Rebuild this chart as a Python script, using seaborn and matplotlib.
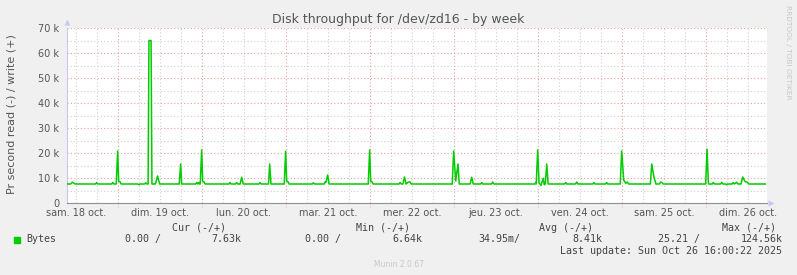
import numpy as np
import pandas as pd
import matplotlib
matplotlib.use("Agg")
import matplotlib.pyplot as plt
import seaborn as sns

# ---------------- data (hours since Sat 18 Oct 00:00, values in k bytes/s) -----
t_hours = [
    9.43,
    10.5, 10.94, 11.4, 11.8,
    17.6, 17.9, 18.2,
    22.2, 22.5, 22.8,
    23.5, 23.9, 24.2, 24.57, 24.9,
    29.7, 30.0, 30.3,
    31.6, 31.9, 32.2,
    32.6, 32.85, 33.45, 33.7,
    34.7, 35.3, 35.9,
    41.5, 41.9, 42.2,
    46.2, 46.5, 46.8, 47.06, 47.3,
    47.5, 47.9, 48.2, 48.57, 48.9,
    55.7, 56.0, 56.3,
    57.6, 57.9, 58.2,
    58.9, 59.34, 59.8,
    64.3, 64.57, 64.9,
    67.0, 67.34, 67.7,
    71.5, 71.9, 72.2, 72.57, 72.9,
    79.5, 79.8, 80.1,
    82.9, 83.14, 83.4, 83.91, 84.3,
    95.5, 95.9, 96.2, 96.57, 96.9,
    104.3, 104.57, 104.9,
    105.4, 105.86, 106.3, 106.94, 107.43, 107.8,
    119.5, 119.9, 120.49, 121.14, 121.5,
    124.6, 125.06, 125.5,
    127.6, 127.91, 128.2,
    130.7, 131.06, 131.4,
    143.1, 143.34, 143.5, 143.91, 144.3, 144.86, 145.51, 145.8, 146.1, 146.49, 146.9,
    151.6, 151.91, 152.2,
    154.7, 155.06, 155.4,
    159.7, 160.0, 160.3,
    163.3, 163.63, 163.9,
    167.5, 167.91, 168.49, 169.06, 169.51, 169.9,
    176.1, 176.49, 177.14, 177.71,
    178.7, 179.06, 179.43, 179.8,
    191.9, 192.3, 192.7,
    193.8, 194.09, 194.4,
    196.2, 196.49, 196.8,
    197.6, 197.91, 198.2,
    199.5, 199.8, 200.1, 200.77, 201.1,
    202.0, 202.49, 203.14, 203.8, 204.2,
    209.06,
]
bytes_k = [
    7.6,
    7.6, 8.3, 7.9, 7.6,
    7.6, 8.2, 7.6,
    7.6, 8.2, 7.6,
    7.6, 20.8, 8.7, 8.5, 7.6,
    7.6, 7.3, 7.6,
    7.6, 8.1, 7.6,
    7.6, 65.0, 65.0, 7.6,
    7.6, 10.8, 7.6,
    7.6, 15.6, 7.6,
    7.6, 8.2, 7.6, 8.2, 7.6,
    7.6, 21.2, 8.7, 8.4, 7.6,
    7.6, 8.2, 7.6,
    7.6, 8.2, 7.6,
    7.6, 10.3, 7.6,
    7.6, 8.1, 7.6,
    7.6, 15.6, 7.6,
    7.6, 20.7, 8.7, 8.5, 7.6,
    7.6, 8.1, 7.6,
    7.6, 8.4, 8.2, 11.2, 7.6,
    7.6, 21.2, 8.7, 8.5, 7.6,
    7.6, 8.2, 7.6,
    7.6, 10.4, 7.6, 8.4, 8.4, 7.6,
    7.6, 20.8, 8.8, 15.6, 7.6,
    7.6, 10.3, 7.6,
    7.6, 8.2, 7.6,
    7.6, 8.4, 7.6,
    7.6, 8.2, 7.6, 21.2, 8.0, 7.0, 9.9, 7.3, 7.6, 15.6, 7.6,
    7.6, 8.2, 7.6,
    7.6, 8.4, 7.6,
    7.6, 8.2, 7.6,
    7.6, 8.2, 7.6,
    7.6, 20.8, 9.2, 7.9, 8.4, 7.6,
    7.6, 15.6, 10.3, 7.6,
    7.6, 8.4, 8.2, 7.6,
    7.6, 21.6, 7.6,
    7.6, 8.2, 7.6,
    7.6, 8.3, 7.6,
    7.6, 7.3, 7.6,
    7.6, 8.2, 7.6, 8.3, 7.6,
    7.6, 10.4, 8.6, 8.3, 7.6,
    7.6,
]
day_labels = ["sam. 18 oct.", "dim. 19 oct.", "lun. 20 oct.", "mar. 21 oct.",
              "mer. 22 oct.", "jeu. 23 oct.", "ven. 24 oct.", "sam. 25 oct.",
              "dim. 26 oct."]
label_hours = [12, 36, 60, 84, 108, 132, 156, 180, 204]
y_ticks = [0, 10, 20, 30, 40, 50, 60, 70]
y_labels = ["0", "10 k", "20 k", "30 k", "40 k", "50 k", "60 k", "70 k"]

legend_headers = ["Cur (-/+)", "Min (-/+)", "Avg (-/+)", "Max (-/+)"]
legend_values = ["0.00 /", "7.63k", "0.00 /", "6.64k",
                 "34.95m/", "8.41k", "25.21 /", "124.56k"]
series_name = "Bytes"
last_update = "Last update: Sun Oct 26 16:00:22 2025"

df = pd.DataFrame({"hours": t_hours, "bytes_k": bytes_k})

# ---------------- figure -------------------------------------------------------
sns.set_style("white")
plt.rcParams['font.family'] = ['DejaVu Sans']

W, H = 797, 275
fig = plt.figure(figsize=(W / 100, H / 100), dpi=100, facecolor='#F0F0F0')
x0, x1, ytop, ybot = 67, 767, 28, 203
ax = fig.add_axes([x0 / W, (H - ybot) / H, (x1 - x0) / W, (ybot - ytop) / H])
ax.set_facecolor('white')
xmin, xmax = 9.43, 209.43
ax.set_xlim(xmin, xmax)
ax.set_ylim(0, 70)

grid_gray = '#D0D0D0'
grid_red = '#E8A0A0'
dots = (0, (1, 2))
for h in np.arange(12, 210, 6):
    if h % 24 == 0:
        continue
    ax.axvline(h, color=grid_gray, lw=0.8, ls=dots, zorder=0)
for v in np.arange(5, 70, 10):
    ax.axhline(v, color=grid_gray, lw=0.8, ls=dots, zorder=0)
for h in np.arange(24, 200, 24):
    ax.axvline(h, color=grid_red, lw=0.8, ls=dots, zorder=0.5)
    ax.plot([h, h], [0, -1.6], color=grid_red, lw=0.8, ls=dots, clip_on=False)
for v in np.arange(10, 71, 10):
    ax.axhline(v, color=grid_red, lw=0.8, ls=dots, zorder=0.5)

sns.lineplot(data=df, x="hours", y="bytes_k", ax=ax, color='#00CC00',
             lw=1.1, estimator=None, sort=False, zorder=3)

ax.set_xlabel("")
ax.set_ylabel("")
ax.set_xticks(label_hours)
ax.set_xticklabels(day_labels)
ax.set_yticks(y_ticks)
ax.set_yticklabels(y_labels)
ax.tick_params(axis='x', length=0, pad=3.5, labelsize=7, colors='#555555')
ax.tick_params(axis='y', length=2.5, width=0.7, color=grid_red, pad=3,
               labelsize=7, labelcolor='#555555')

for s in ['top', 'right']:
    ax.spines[s].set_visible(False)
ax.spines['left'].set_color('#C8C8F0')
ax.spines['left'].set_linewidth(0.8)
ax.spines['bottom'].set_color('#909090')
ax.spines['bottom'].set_linewidth(0.8)
ax.plot([xmin], [72.3], marker='^', ms=4, color='#C8C8F4', clip_on=False,
        mec='none')
ax.plot([xmin + (x1 + 4 - x0) / 3.5], [0], marker='>', ms=4, color='#C8C8F4',
        clip_on=False, mec='none')

# ---------------- texts --------------------------------------------------------
def fx(px):
    return px / W

def fy(py):
    return 1 - py / H

txt = '#555555'
fig.text(fx(398), fy(19), "Disk throughput for /dev/zd16 - by week",
         ha='center', va='center', fontsize=9, color=txt)
fig.text(fx(12), fy(114), "Pr second read (-) / write (+)", rotation=90,
         ha='center', va='center', fontsize=8, color=txt)
fig.text(fx(788), fy(5), "RRDTOOL / TOBI OETIKER", rotation=270,
         ha='center', va='top', fontsize=5.3, color='#C8C8C8')

mono = {'family': ['DejaVu Sans Mono'], 'fontsize': 7.2, 'color': '#444444'}
hdr_right = [226.5, 410, 593.3, 776]
for s, xr in zip(legend_headers, hdr_right):
    fig.text(fx(xr), fy(227.7), s, ha='right', va='center', **mono)

fig.patches.append(plt.Rectangle((fx(14), fy(243)), 6 / W, 6 / H,
                                 transform=fig.transFigure, color='#00CC00'))
fig.text(fx(26.5), fy(239.3), series_name, ha='left', va='center', **mono)
val_right = [161, 241.7, 341, 422.7, 520, 602.7, 700, 782.7]
for s, xr in zip(legend_values, val_right):
    fig.text(fx(xr), fy(239.3), s, ha='right', va='center', **mono)
fig.text(fx(782.5), fy(251), last_update, ha='right', va='center', **mono)
fig.text(fx(398.5), fy(264.5), "Munin 2.0.67", ha='center', va='center',
         fontsize=5.5, color='#C8C8C8')

fig.savefig("out.png", dpi=100, facecolor=fig.get_facecolor())
